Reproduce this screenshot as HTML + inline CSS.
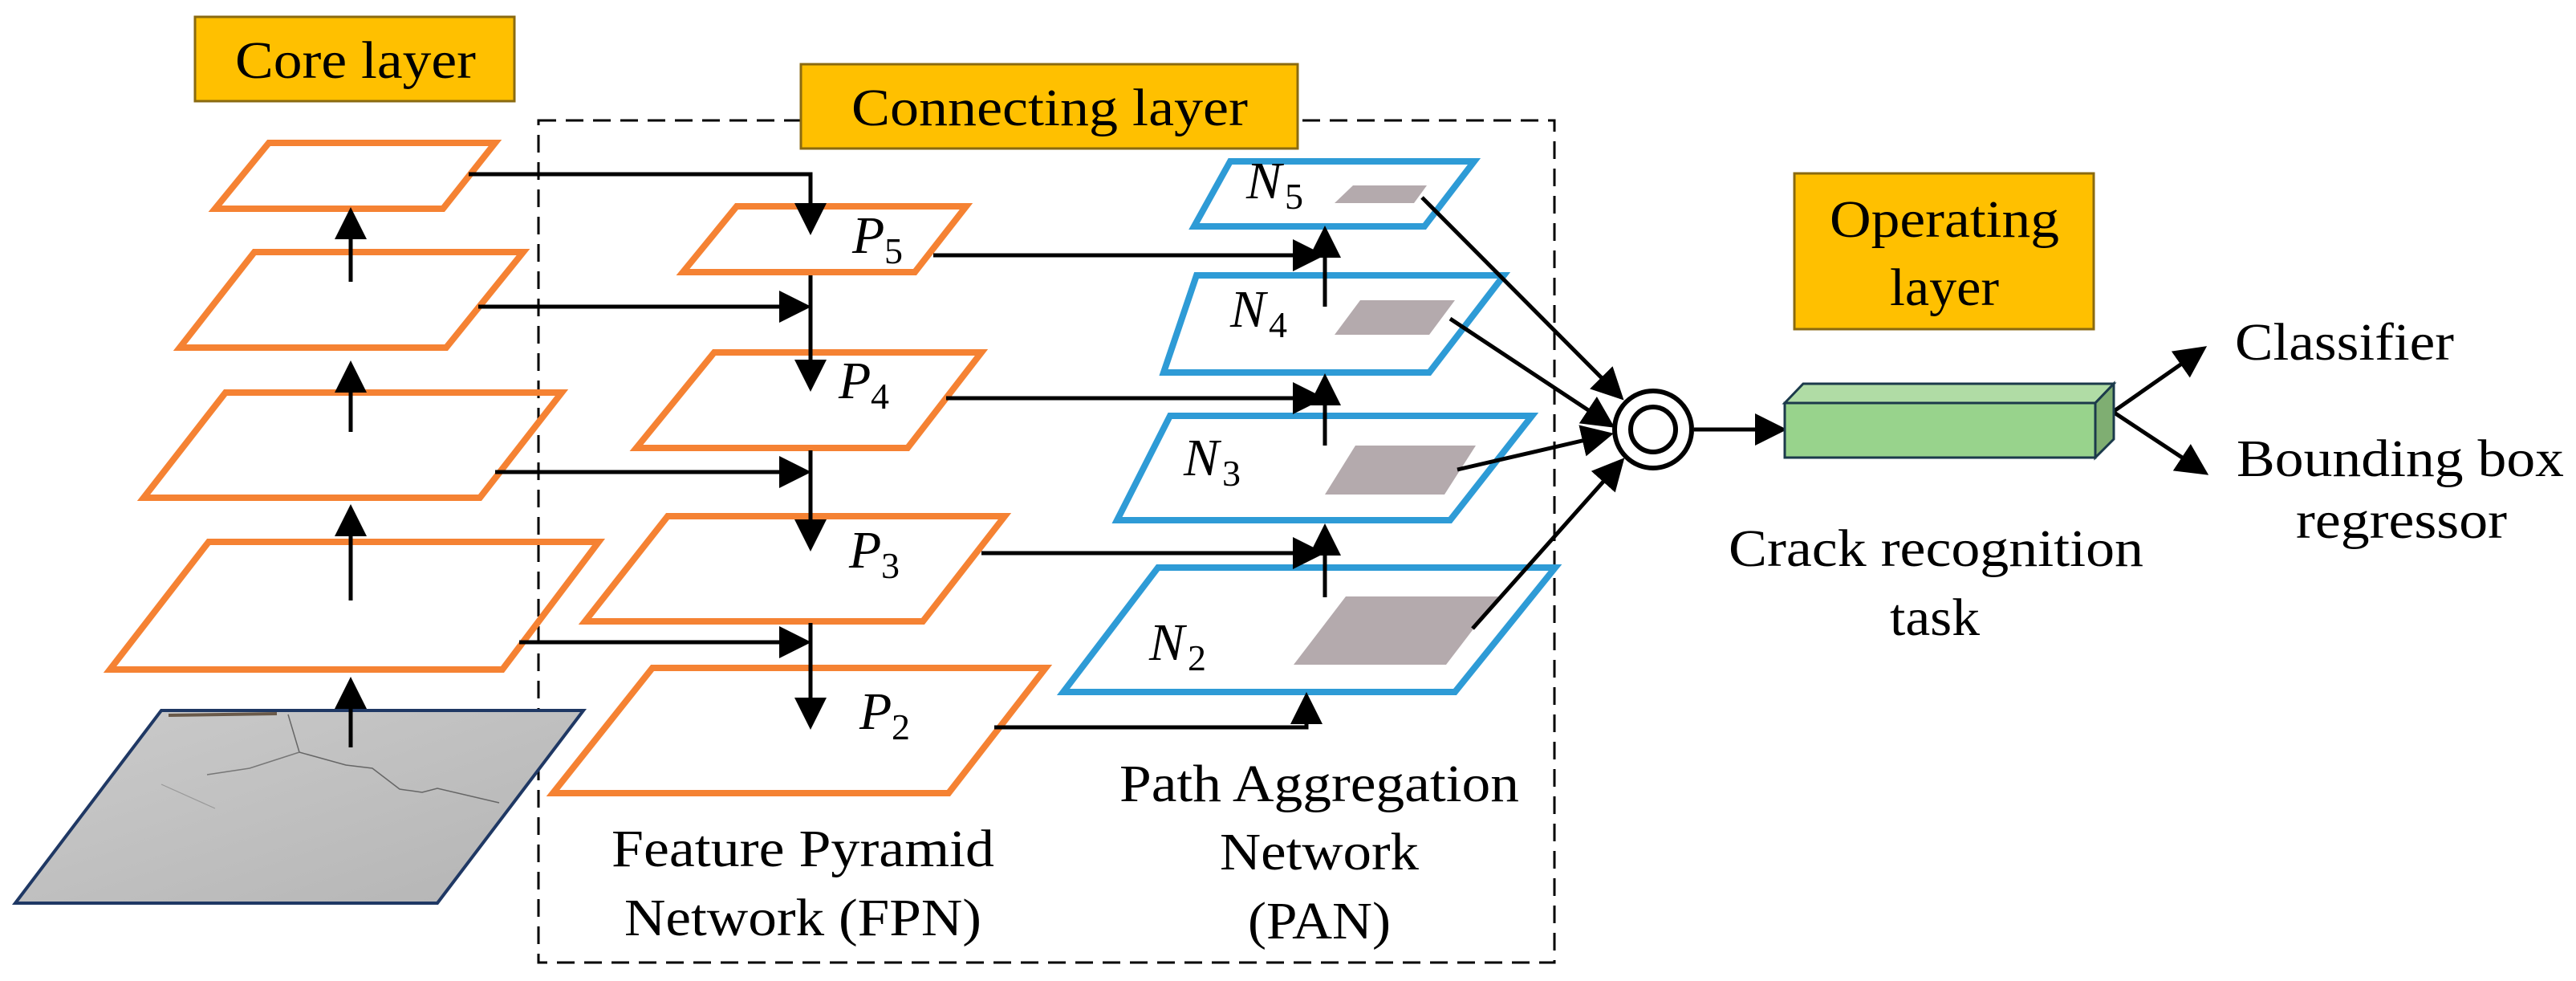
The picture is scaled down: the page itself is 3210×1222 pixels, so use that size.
<!DOCTYPE html>
<html><head><meta charset="utf-8"><style>
html,body{margin:0;padding:0;background:#fff;}
svg{display:block;}
svg text{font-family:"Liberation Serif","DejaVu Serif","Times New Roman",serif;fill:#000;}
.t{font-size:66px;}
.m{font-size:66px;font-style:italic;}
.s{font-size:46px;}
</style></head><body>
<svg width="3210" height="1222" viewBox="0 0 3210 1222" xmlns="http://www.w3.org/2000/svg">
<defs>
<marker id="a" markerWidth="8" markerHeight="8" refX="7" refY="4" orient="auto" markerUnits="strokeWidth">
<path d="M0,0 L8,4 L0,8 z" fill="#000"/></marker>
<linearGradient id="g" x1="0" y1="0" x2="1" y2="1"><stop offset="0" stop-color="#cbcbcb"/><stop offset="1" stop-color="#b4b4b4"/></linearGradient>
</defs>

<rect x="243" y="21" width="398" height="105" fill="#ffc000" stroke="#8a6a10" stroke-width="3"/>
<text class="t" x="293" y="97" textLength="300" lengthAdjust="spacingAndGlyphs">Core layer</text>

<rect x="671" y="150" width="1266" height="1049" fill="none" stroke="#000" stroke-width="3" stroke-dasharray="22,12"/>

<rect x="998" y="80" width="619" height="105" fill="#ffc000" stroke="#8a6a10" stroke-width="3"/>
<text class="t" x="1061" y="156" textLength="494" lengthAdjust="spacingAndGlyphs">Connecting layer</text>

<polygon points="201,885 727,885 545,1125 19,1125" fill="url(#g)" stroke="#1f3864" stroke-width="4"/>
<path d="M210,891 L345,889" stroke="#6a5a4a" stroke-width="4"/>
<polyline points="359,890 373,937 431,953 464,957 498,983 526,987 545,982 622,1000" fill="none" stroke="#666" stroke-width="1.5"/>
<polyline points="373,937 311,957 258,965" fill="none" stroke="#777" stroke-width="1.5"/>
<polyline points="201,977 268,1007" fill="none" stroke="#999" stroke-width="1.2"/>

<g fill="none" stroke="#f58233" stroke-width="8">
<polygon points="335,178 617,178 552,260 268,260"/>
<polygon points="317,314 652,314 556,433 224,433"/>
<polygon points="281,489 700,489 598,620 179,620"/>
<polygon points="260,675 746,675 626,834 137,834"/>
<polygon points="918,257 1204,257 1140,339 851,339"/>
<polygon points="890,439 1223,439 1131,558 793,558"/>
<polygon points="832,643 1252,643 1150,774 729,774"/>
<polygon points="813,832 1303,832 1182,988 689,988"/>
</g>

<g fill="none" stroke="#2e9bd6" stroke-width="8">
<polygon points="1533,201 1837,201 1775,282 1488,282"/>
<polygon points="1491,343 1874,343 1781,464 1450,464"/>
<polygon points="1458,518 1909,518 1807,648 1392,648"/>
<polygon points="1443,707 1938,707 1813,862 1325,862"/>
</g>
<g fill="#b4aaad">
<polygon points="1686,231 1778,231 1762,253 1663,253"/>
<polygon points="1695,374 1813,374 1781,417 1663,417"/>
<polygon points="1689,555 1839,555 1800,616 1651,616"/>
<polygon points="1677,743 1867,743 1802,828 1612,828"/>
</g>

<g stroke="#000" stroke-width="5" fill="none">
<line x1="437" y1="931" x2="437" y2="848" marker-end="url(#a)"/>
<line x1="437" y1="748" x2="437" y2="633" marker-end="url(#a)"/>
<line x1="437" y1="538" x2="437" y2="454" marker-end="url(#a)"/>
<line x1="437" y1="351" x2="437" y2="263" marker-end="url(#a)"/>
<polyline points="584,217 1010,217 1010,288" marker-end="url(#a)"/>
<line x1="596" y1="382" x2="1006" y2="382" marker-end="url(#a)"/>
<line x1="617" y1="588" x2="1006" y2="588" marker-end="url(#a)"/>
<line x1="647" y1="800" x2="1006" y2="800" marker-end="url(#a)"/>
<line x1="1010" y1="343" x2="1010" y2="483" marker-end="url(#a)"/>
<line x1="1010" y1="561" x2="1010" y2="682" marker-end="url(#a)"/>
<line x1="1010" y1="776" x2="1010" y2="904" marker-end="url(#a)"/>
<line x1="1163" y1="318" x2="1646" y2="318" marker-end="url(#a)"/>
<line x1="1179" y1="496" x2="1646" y2="496" marker-end="url(#a)"/>
<line x1="1223" y1="689" x2="1646" y2="689" marker-end="url(#a)"/>
<polyline points="1239,906 1628,906 1628,867" marker-end="url(#a)"/>
<line x1="1651" y1="382" x2="1651" y2="286" marker-end="url(#a)"/>
<line x1="1651" y1="555" x2="1651" y2="470" marker-end="url(#a)"/>
<line x1="1651" y1="744" x2="1651" y2="657" marker-end="url(#a)"/>
<line x1="1772" y1="246" x2="2020" y2="495" marker-end="url(#a)"/>
<line x1="1807" y1="397" x2="2008" y2="530" marker-end="url(#a)"/>
<line x1="1816" y1="585" x2="2006" y2="541" marker-end="url(#a)"/>
<line x1="1835" y1="783" x2="2021" y2="574" marker-end="url(#a)"/>
<line x1="2111" y1="535" x2="2222" y2="535" marker-end="url(#a)"/>
<line x1="2633" y1="513" x2="2746" y2="434" marker-end="url(#a)"/>
<line x1="2633" y1="513" x2="2748" y2="589" marker-end="url(#a)"/>
</g>

<circle cx="2060" cy="535" r="48" fill="#fff" stroke="#000" stroke-width="6"/>
<circle cx="2060" cy="535" r="28" fill="none" stroke="#000" stroke-width="6"/>

<rect x="2236" y="216" width="373" height="194" fill="#ffc000" stroke="#8a6a10" stroke-width="3"/>
<text class="t" x="2280" y="295" textLength="286" lengthAdjust="spacingAndGlyphs">Operating</text>
<text class="t" x="2355" y="380" textLength="136" lengthAdjust="spacingAndGlyphs">layer</text>

<polygon points="2224,502 2247,478 2634,478 2611,502" fill="#b0dca5" stroke="#1b3a4b" stroke-width="3"/>
<polygon points="2611,502 2634,478 2634,547 2611,570" fill="#7fae72" stroke="#1b3a4b" stroke-width="3"/>
<rect x="2224" y="502" width="387" height="68" fill="#98d38c" stroke="#1b3a4b" stroke-width="3"/>

<text class="m" x="1062" y="315">P</text><text class="s" x="1102" y="328">5</text>
<text class="m" x="1045" y="496">P</text><text class="s" x="1085" y="509">4</text>
<text class="m" x="1058" y="707">P</text><text class="s" x="1098" y="720">3</text>
<text class="m" x="1071" y="908">P</text><text class="s" x="1111" y="921">2</text>
<text class="m" x="1553" y="247">N</text><text class="s" x="1601" y="260">5</text>
<text class="m" x="1533" y="407">N</text><text class="s" x="1581" y="420">4</text>
<text class="m" x="1475" y="592">N</text><text class="s" x="1523" y="605">3</text>
<text class="m" x="1432" y="822">N</text><text class="s" x="1480" y="835">2</text>

<text class="t" x="762" y="1079" textLength="477" lengthAdjust="spacingAndGlyphs">Feature Pyramid</text>
<text class="t" x="778" y="1165" textLength="445" lengthAdjust="spacingAndGlyphs">Network (FPN)</text>
<text class="t" x="1395" y="998" textLength="498" lengthAdjust="spacingAndGlyphs">Path Aggregation</text>
<text class="t" x="1520" y="1083" textLength="248" lengthAdjust="spacingAndGlyphs">Network</text>
<text class="t" x="1555" y="1169" textLength="178" lengthAdjust="spacingAndGlyphs">(PAN)</text>
<text class="t" x="2154" y="705" textLength="517" lengthAdjust="spacingAndGlyphs">Crack recognition</text>
<text class="t" x="2355" y="791" textLength="112" lengthAdjust="spacingAndGlyphs">task</text>
<text class="t" x="2785" y="448" textLength="273" lengthAdjust="spacingAndGlyphs">Classifier</text>
<text class="t" x="2787" y="593" textLength="408" lengthAdjust="spacingAndGlyphs">Bounding box</text>
<text class="t" x="2861" y="670" textLength="263" lengthAdjust="spacingAndGlyphs">regressor</text>
</svg>
</body></html>
